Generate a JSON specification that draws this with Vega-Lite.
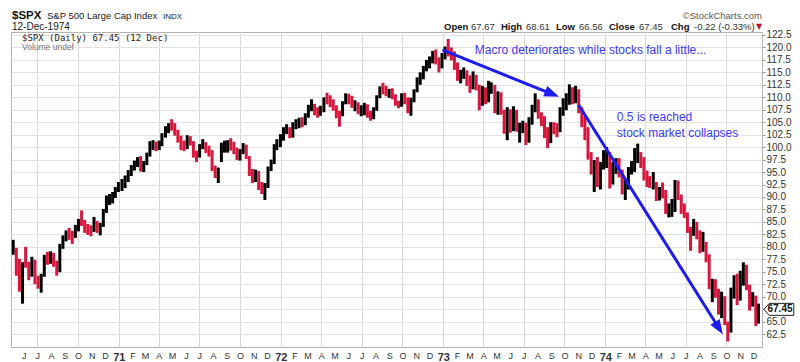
{
"$schema":"https://vega.github.io/schema/vega-lite/v6.json",
"width":751,"height":315,
"autosize":{"type":"none"},
"padding":{"left":11,"top":32,"right":38,"bottom":15},
"background":"white",
"config":{"view":{"stroke":"#b4b4b4","strokeWidth":1},"font":"Liberation Sans","text":{"font":"Liberation Sans"},"axis":{"labelOverlap":false,"labelSeparation":0,"labelFont":"Liberation Sans"}},
"datasets":{
"px":[
{"d":"1970-05-08","h":81.4,"l":78.4,"c":79.4},{"d":"1970-05-15","h":79.8,"l":74.2,"c":76.9},{"d":"1970-05-22","h":77.6,"l":71.0,"c":72.3},{"d":"1970-05-29","h":76.9,"l":68.6,"c":76.6},
{"d":"1970-06-05","h":80.0,"l":75.8,"c":76.2},{"d":"1970-06-12","h":77.0,"l":73.3,"c":74.3},{"d":"1970-06-19","h":78.0,"l":74.0,"c":77.0},{"d":"1970-06-26","h":77.4,"l":72.5,"c":73.5},
{"d":"1970-07-03","h":74.2,"l":71.6,"c":72.9},{"d":"1970-07-10","h":74.6,"l":70.8,"c":74.1},{"d":"1970-07-17","h":78.4,"l":74.0,"c":77.7},{"d":"1970-07-24","h":79.0,"l":76.4,"c":77.4},{"d":"1970-07-31","h":79.1,"l":76.6,"c":78.05},
{"d":"1970-08-07","h":78.8,"l":76.0,"c":76.6},{"d":"1970-08-14","h":77.2,"l":74.2,"c":75.2},{"d":"1970-08-21","h":80.6,"l":74.9,"c":80.0},{"d":"1970-08-28","h":82.3,"l":79.6,"c":81.9},
{"d":"1970-09-04","h":83.3,"l":81.1,"c":82.8},{"d":"1970-09-11","h":83.8,"l":81.4,"c":82.5},{"d":"1970-09-18","h":83.2,"l":80.6,"c":82.1},{"d":"1970-09-25","h":84.4,"l":81.8,"c":83.9},
{"d":"1970-10-02","h":85.6,"l":83.1,"c":85.2},{"d":"1970-10-09","h":87.3,"l":84.2,"c":85.0},{"d":"1970-10-16","h":85.4,"l":82.8,"c":83.8},{"d":"1970-10-23","h":84.6,"l":82.4,"c":83.4},{"d":"1970-10-30","h":84.3,"l":82.1,"c":83.25},
{"d":"1970-11-06","h":86.0,"l":83.0,"c":84.4},{"d":"1970-11-13","h":85.2,"l":82.8,"c":83.4},{"d":"1970-11-20","h":84.8,"l":82.3,"c":84.3},{"d":"1970-11-27","h":87.6,"l":84.0,"c":87.2},
{"d":"1970-12-04","h":90.3,"l":86.8,"c":89.5},{"d":"1970-12-11","h":90.6,"l":88.4,"c":89.7},{"d":"1970-12-18","h":91.0,"l":88.7,"c":90.2},{"d":"1970-12-24","h":92.0,"l":89.8,"c":91.6},{"d":"1970-12-31","h":93.0,"l":91.0,"c":92.15},
{"d":"1971-01-08","h":93.6,"l":91.2,"c":92.4},{"d":"1971-01-15","h":94.3,"l":91.8,"c":93.7},{"d":"1971-01-22","h":95.4,"l":93.0,"c":94.9},{"d":"1971-01-29","h":96.4,"l":94.2,"c":95.9},
{"d":"1971-02-05","h":97.3,"l":95.3,"c":96.6},{"d":"1971-02-12","h":98.0,"l":96.0,"c":97.5},{"d":"1971-02-19","h":98.2,"l":95.1,"c":96.0},{"d":"1971-02-26","h":97.2,"l":95.0,"c":96.75},
{"d":"1971-03-05","h":98.9,"l":96.4,"c":98.4},{"d":"1971-03-12","h":101.2,"l":98.1,"c":100.7},{"d":"1971-03-19","h":101.4,"l":99.4,"c":101.0},{"d":"1971-03-26","h":101.1,"l":99.2,"c":99.6},
{"d":"1971-04-02","h":101.3,"l":99.4,"c":100.6},{"d":"1971-04-08","h":102.8,"l":100.2,"c":102.1},{"d":"1971-04-16","h":104.2,"l":101.9,"c":103.5},{"d":"1971-04-23","h":104.8,"l":102.8,"c":104.3},{"d":"1971-04-30","h":105.6,"l":103.3,"c":103.95},
{"d":"1971-05-07","h":104.8,"l":102.3,"c":102.9},{"d":"1971-05-14","h":103.5,"l":100.9,"c":101.6},{"d":"1971-05-21","h":102.3,"l":99.4,"c":100.0},{"d":"1971-05-28","h":101.3,"l":99.2,"c":99.6},
{"d":"1971-06-04","h":102.4,"l":99.6,"c":101.3},{"d":"1971-06-11","h":102.2,"l":100.3,"c":100.9},{"d":"1971-06-18","h":101.2,"l":97.9,"c":98.2},{"d":"1971-06-25","h":99.3,"l":97.0,"c":98.0},
{"d":"1971-07-02","h":100.6,"l":97.9,"c":99.8},{"d":"1971-07-09","h":101.6,"l":99.6,"c":101.0},{"d":"1971-07-16","h":101.0,"l":98.8,"c":99.3},{"d":"1971-07-23","h":100.3,"l":98.1,"c":98.9},{"d":"1971-07-30","h":99.4,"l":95.2,"c":95.6},
{"d":"1971-08-06","h":96.3,"l":93.8,"c":94.3},{"d":"1971-08-13","h":95.9,"l":92.8,"c":95.7},{"d":"1971-08-20","h":100.9,"l":97.0,"c":99.9},{"d":"1971-08-27","h":101.3,"l":98.9,"c":100.5},
{"d":"1971-09-03","h":101.4,"l":98.9,"c":100.7},{"d":"1971-09-10","h":101.8,"l":99.3,"c":100.4},{"d":"1971-09-17","h":101.1,"l":98.6,"c":99.0},{"d":"1971-09-24","h":99.9,"l":97.4,"c":98.2},
{"d":"1971-10-01","h":99.6,"l":97.3,"c":98.9},{"d":"1971-10-08","h":100.8,"l":98.6,"c":99.8},{"d":"1971-10-15","h":100.5,"l":97.6,"c":97.8},{"d":"1971-10-22","h":98.2,"l":94.2,"c":95.1},{"d":"1971-10-29","h":95.6,"l":92.8,"c":94.2},
{"d":"1971-11-05","h":95.5,"l":93.0,"c":94.5},{"d":"1971-11-12","h":95.2,"l":91.4,"c":92.1},{"d":"1971-11-19","h":93.0,"l":90.6,"c":91.0},{"d":"1971-11-26","h":92.8,"l":89.4,"c":92.0},
{"d":"1971-12-03","h":96.1,"l":91.8,"c":95.8},{"d":"1971-12-10","h":97.5,"l":95.2,"c":97.0},{"d":"1971-12-17","h":100.6,"l":96.6,"c":100.3},{"d":"1971-12-23","h":101.6,"l":99.4,"c":100.7},{"d":"1971-12-31","h":102.6,"l":100.0,"c":102.09},
{"d":"1972-01-07","h":104.0,"l":101.3,"c":103.5},{"d":"1972-01-14","h":104.6,"l":102.6,"c":103.6},{"d":"1972-01-21","h":104.0,"l":101.8,"c":102.6},{"d":"1972-01-28","h":105.0,"l":101.9,"c":104.2},
{"d":"1972-02-04","h":105.6,"l":103.6,"c":104.9},{"d":"1972-02-11","h":105.9,"l":103.8,"c":105.1},{"d":"1972-02-18","h":106.0,"l":104.0,"c":105.0},{"d":"1972-02-25","h":106.8,"l":104.4,"c":106.2},
{"d":"1972-03-03","h":108.5,"l":105.9,"c":107.9},{"d":"1972-03-10","h":109.6,"l":107.2,"c":108.4},{"d":"1972-03-17","h":108.7,"l":106.4,"c":107.5},{"d":"1972-03-24","h":108.0,"l":105.9,"c":106.7},{"d":"1972-03-30","h":108.3,"l":106.3,"c":107.2},
{"d":"1972-04-07","h":110.0,"l":107.0,"c":109.6},{"d":"1972-04-14","h":110.9,"l":108.6,"c":109.5},{"d":"1972-04-21","h":110.4,"l":108.0,"c":108.9},{"d":"1972-04-28","h":109.6,"l":107.3,"c":107.7},
{"d":"1972-05-05","h":108.4,"l":105.8,"c":106.6},{"d":"1972-05-12","h":107.3,"l":104.1,"c":106.4},{"d":"1972-05-19","h":109.2,"l":106.2,"c":108.9},{"d":"1972-05-26","h":110.8,"l":108.6,"c":110.5},
{"d":"1972-06-02","h":110.7,"l":108.6,"c":109.7},{"d":"1972-06-09","h":110.3,"l":107.9,"c":108.3},{"d":"1972-06-16","h":109.4,"l":107.2,"c":108.6},{"d":"1972-06-23","h":109.0,"l":106.6,"c":107.0},{"d":"1972-06-30","h":108.4,"l":106.2,"c":107.1},
{"d":"1972-07-07","h":108.9,"l":106.4,"c":108.7},{"d":"1972-07-14","h":108.6,"l":105.9,"c":106.3},{"d":"1972-07-21","h":107.3,"l":105.3,"c":106.1},{"d":"1972-07-28","h":108.0,"l":105.6,"c":107.5},
{"d":"1972-08-04","h":110.4,"l":107.3,"c":110.1},{"d":"1972-08-11","h":112.2,"l":109.8,"c":111.9},{"d":"1972-08-18","h":112.9,"l":110.6,"c":111.7},{"d":"1972-08-25","h":112.3,"l":110.2,"c":110.7},
{"d":"1972-09-01","h":111.7,"l":109.9,"c":111.5},{"d":"1972-09-08","h":111.8,"l":109.6,"c":110.3},{"d":"1972-09-15","h":110.6,"l":108.3,"c":108.8},{"d":"1972-09-22","h":109.3,"l":107.8,"c":108.5},{"d":"1972-09-29","h":110.8,"l":108.1,"c":110.55},
{"d":"1972-10-06","h":110.9,"l":108.6,"c":109.6},{"d":"1972-10-13","h":110.0,"l":106.8,"c":107.3},{"d":"1972-10-20","h":109.9,"l":106.3,"c":109.2},{"d":"1972-10-27","h":111.6,"l":109.0,"c":111.4},
{"d":"1972-11-03","h":114.0,"l":111.0,"c":113.2},{"d":"1972-11-10","h":115.0,"l":112.5,"c":113.9},{"d":"1972-11-17","h":116.3,"l":113.6,"c":115.5},{"d":"1972-11-24","h":117.5,"l":115.2,"c":117.3},
{"d":"1972-12-01","h":118.2,"l":115.8,"c":117.4},{"d":"1972-12-08","h":119.3,"l":116.8,"c":118.9},{"d":"1972-12-15","h":119.6,"l":116.6,"c":117.9},{"d":"1972-12-22","h":118.0,"l":115.0,"c":116.2},{"d":"1972-12-29","h":118.9,"l":115.8,"c":118.05},
{"d":"1973-01-05","h":120.2,"l":117.6,"c":119.9},{"d":"1973-01-12","h":121.7,"l":118.2,"c":119.3},{"d":"1973-01-19","h":120.0,"l":117.4,"c":118.8},{"d":"1973-01-26","h":119.2,"l":115.5,"c":116.5},
{"d":"1973-02-02","h":117.0,"l":113.3,"c":114.4},{"d":"1973-02-09","h":115.5,"l":112.8,"c":114.7},{"d":"1973-02-16","h":116.0,"l":113.7,"c":115.0},{"d":"1973-02-23","h":115.4,"l":112.3,"c":113.2},
{"d":"1973-03-02","h":114.4,"l":110.9,"c":112.3},{"d":"1973-03-09","h":115.2,"l":111.6,"c":113.8},{"d":"1973-03-16","h":114.5,"l":111.4,"c":112.1},{"d":"1973-03-23","h":112.5,"l":107.4,"c":108.8},{"d":"1973-03-30","h":112.3,"l":108.3,"c":111.5},
{"d":"1973-04-06","h":112.0,"l":108.6,"c":109.3},{"d":"1973-04-13","h":113.3,"l":109.0,"c":111.4},{"d":"1973-04-19","h":113.0,"l":110.7,"c":112.2},{"d":"1973-04-27","h":112.5,"l":106.8,"c":107.2},
{"d":"1973-05-04","h":111.2,"l":106.5,"c":110.0},{"d":"1973-05-11","h":111.0,"l":106.5,"c":107.0},{"d":"1973-05-18","h":107.5,"l":102.7,"c":104.0},{"d":"1973-05-25","h":108.0,"l":101.4,"c":107.1},
{"d":"1973-06-01","h":107.6,"l":102.9,"c":103.9},{"d":"1973-06-08","h":108.2,"l":103.2,"c":107.0},{"d":"1973-06-15","h":107.5,"l":103.1,"c":103.7},{"d":"1973-06-22","h":104.9,"l":100.9,"c":103.7},{"d":"1973-06-29","h":105.3,"l":102.8,"c":104.3},
{"d":"1973-07-06","h":104.9,"l":100.4,"c":101.3},{"d":"1973-07-13","h":106.0,"l":100.9,"c":105.8},{"d":"1973-07-20","h":108.5,"l":104.5,"c":107.6},{"d":"1973-07-27","h":110.8,"l":107.0,"c":109.7},
{"d":"1973-08-03","h":109.6,"l":105.7,"c":106.4},{"d":"1973-08-10","h":107.0,"l":104.2,"c":105.2},{"d":"1973-08-17","h":106.2,"l":101.8,"c":103.4},{"d":"1973-08-24","h":104.0,"l":99.8,"c":101.2},{"d":"1973-08-31","h":105.0,"l":100.8,"c":104.3},
{"d":"1973-09-07","h":105.0,"l":102.6,"c":104.0},{"d":"1973-09-14","h":104.8,"l":102.0,"c":103.4},{"d":"1973-09-21","h":108.0,"l":103.0,"c":107.2},{"d":"1973-09-28","h":109.8,"l":106.3,"c":108.4},
{"d":"1973-10-05","h":110.8,"l":107.4,"c":109.9},{"d":"1973-10-12","h":112.6,"l":108.5,"c":111.4},{"d":"1973-10-19","h":112.0,"l":108.6,"c":110.2},{"d":"1973-10-26","h":112.3,"l":108.8,"c":111.4},
{"d":"1973-11-02","h":111.6,"l":106.8,"c":107.1},{"d":"1973-11-09","h":108.0,"l":104.0,"c":105.3},{"d":"1973-11-16","h":106.2,"l":101.4,"c":103.9},{"d":"1973-11-23","h":104.0,"l":97.5,"c":98.0},{"d":"1973-11-30","h":99.0,"l":94.5,"c":95.96},
{"d":"1973-12-07","h":97.4,"l":91.0,"c":96.5},{"d":"1973-12-14","h":98.0,"l":92.0,"c":93.3},{"d":"1973-12-21","h":97.0,"l":91.5,"c":95.8},{"d":"1973-12-28","h":99.4,"l":95.5,"c":97.5},
{"d":"1974-01-04","h":100.0,"l":95.8,"c":98.9},{"d":"1974-01-11","h":99.0,"l":91.7,"c":93.4},{"d":"1974-01-18","h":97.0,"l":92.5,"c":95.6},{"d":"1974-01-25","h":97.8,"l":94.6,"c":96.0},
{"d":"1974-02-01","h":97.8,"l":93.9,"c":94.9},{"d":"1974-02-08","h":95.5,"l":90.5,"c":91.4},{"d":"1974-02-15","h":93.5,"l":89.4,"c":92.3},{"d":"1974-02-22","h":96.0,"l":91.5,"c":95.4},
{"d":"1974-03-01","h":97.2,"l":94.5,"c":95.5},{"d":"1974-03-08","h":99.8,"l":95.0,"c":97.8},{"d":"1974-03-15","h":100.7,"l":96.8,"c":99.7},{"d":"1974-03-22","h":99.0,"l":95.8,"c":97.3},{"d":"1974-03-29","h":98.0,"l":93.3,"c":93.98},
{"d":"1974-04-05","h":95.3,"l":92.0,"c":93.0},{"d":"1974-04-11","h":94.2,"l":91.8,"c":92.1},{"d":"1974-04-19","h":95.0,"l":91.5,"c":92.1},{"d":"1974-04-26","h":93.0,"l":89.2,"c":89.6},
{"d":"1974-05-03","h":92.0,"l":89.3,"c":91.0},{"d":"1974-05-10","h":92.9,"l":89.7,"c":90.7},{"d":"1974-05-17","h":91.4,"l":86.6,"c":87.1},{"d":"1974-05-24","h":88.7,"l":85.9,"c":87.3},{"d":"1974-05-31","h":89.6,"l":86.0,"c":87.3},
{"d":"1974-06-07","h":93.4,"l":87.0,"c":92.6},{"d":"1974-06-14","h":93.3,"l":89.4,"c":90.0},{"d":"1974-06-21","h":90.5,"l":86.6,"c":87.5},{"d":"1974-06-28","h":88.7,"l":85.8,"c":86.0},
{"d":"1974-07-05","h":86.9,"l":82.8,"c":83.7},{"d":"1974-07-12","h":84.0,"l":79.2,"c":83.2},{"d":"1974-07-19","h":85.6,"l":82.2,"c":83.8},{"d":"1974-07-26","h":85.0,"l":81.5,"c":82.4},
{"d":"1974-08-02","h":83.3,"l":78.7,"c":79.3},{"d":"1974-08-09","h":83.0,"l":79.0,"c":80.9},{"d":"1974-08-16","h":81.0,"l":76.9,"c":78.0},{"d":"1974-08-23","h":78.5,"l":71.5,"c":71.6},{"d":"1974-08-30","h":73.6,"l":68.9,"c":72.15},
{"d":"1974-09-06","h":73.5,"l":69.8,"c":71.4},{"d":"1974-09-13","h":71.6,"l":66.4,"c":66.7},{"d":"1974-09-20","h":71.0,"l":65.7,"c":70.1},{"d":"1974-09-27","h":70.1,"l":64.3,"c":64.9},
{"d":"1974-10-04","h":65.0,"l":61.0,"c":62.34},{"d":"1974-10-11","h":71.8,"l":62.8,"c":71.14},{"d":"1974-10-18","h":74.3,"l":69.6,"c":72.28},{"d":"1974-10-25","h":74.6,"l":68.3,"c":70.12},
{"d":"1974-11-01","h":75.2,"l":69.2,"c":73.88},{"d":"1974-11-08","h":76.9,"l":72.2,"c":74.91},{"d":"1974-11-15","h":76.4,"l":71.3,"c":71.91},{"d":"1974-11-22","h":72.4,"l":67.2,"c":68.9},{"d":"1974-11-29","h":70.9,"l":68.0,"c":69.97},
{"d":"1974-12-06","h":70.2,"l":64.1,"c":65.01},{"d":"1974-12-12","h":68.6,"l":64.6,"c":67.45}
],
"arrows":[
{"id":1,"d1":"1972-12-30","v1":119.5,"d2":"1973-09-02","v2":110.7,"dt":"1973-09-19","vt":110.1},
{"id":2,"d1":"1973-11-02","v1":108.45,"d2":"1974-09-13","v2":63.8,"dt":"1974-09-23","vt":62.4}
],
"notes":[
{"d":"1973-03-13","v":119.49,"t":"Macro deteriorates while stocks fall a little..."},
{"d":"1974-01-27","v":105.98,"t":"0.5 is reached"},
{"d":"1974-01-27","v":102.89,"t":"stock market collapses"}
]
},
"layer":[
{
"data":{"name":"px"},
"transform":[{"window":[{"op":"lag","field":"c","as":"pc"}],"sort":[{"field":"d"}]}],
"mark":{"type":"rule","strokeWidth":3,"strokeCap":"butt"},
"encoding":{
"x":{"field":"d","type":"temporal","scale":{"type":"utc","domain":[{"year":1970,"month":5,"date":3,"utc":true},{"year":1974,"month":12,"date":20,"utc":true}],"nice":false},
"axis":{"title":null,"tickCount":{"interval":"month","step":1},
"labelExpr":"utcmonth(datum.value)==0 ? utcFormat(datum.value,'%y') : slice(utcFormat(datum.value,'%b'),0,1)",
"labelFontWeight":{"condition":{"test":"utcmonth(datum.value)==0","value":"bold"},"value":"normal"},
"labelFontSize":{"condition":{"test":"utcmonth(datum.value)==0","value":11},"value":9},
"labelColor":"#333","labelPadding":4,"ticks":false,"domain":false,"grid":true,
"gridColor":{"condition":{"test":"utcmonth(datum.value)%3==0","value":"#d9d9d9"},"value":"rgba(0,0,0,0)"},
"labelOverlap":false,"labelBound":false,"labelFlush":false}},
"y":{"field":"l","type":"quantitative","scale":{"domain":[59.9,123.1],"nice":false,"zero":false},
"axis":{"orient":"right","title":null,"tickCount":40,"values":[62.5,65,67.5,70,72.5,75,77.5,80,82.5,85,87.5,90,92.5,95,97.5,100,102.5,105,107.5,110,112.5,115,117.5,120,122.5],
"labelExpr":"datum.value == 67.5 ? '' : format(datum.value, '.1f')",
"labelFontSize":10,"labelColor":"#333","tickSize":3,"tickColor":"#999","labelPadding":1,"domain":false,"grid":true,"gridColor":"#e3e3e3","labelOverlap":false,"labelBound":false,"labelSeparation":0}},
"y2":{"field":"h"},
"color":{"condition":{"test":"datum.pc != null && datum.c < datum.pc","value":"#d8163c"},"value":"#000000"}
}
},
{
"data":{"name":"arrows"},
"mark":{"type":"rule","color":"#1c1cf0","strokeWidth":3},
"encoding":{"x":{"field":"d1","type":"temporal"},"y":{"field":"v1","type":"quantitative"},"x2":{"field":"d2"},"y2":{"field":"v2"}}
},
{
"data":{"name":"arrows"},
"transform":[{"filter":"datum.id==1"}],
"mark":{"type":"point","shape":"M0,0L-3,-1.1L-3,1.1Z","size":100,"filled":true,"color":"#1c1cf0","opacity":1,"angle":21.8},
"encoding":{"x":{"field":"dt","type":"temporal"},"y":{"field":"vt","type":"quantitative"}}
},
{
"data":{"name":"arrows"},
"transform":[{"filter":"datum.id==2"}],
"mark":{"type":"point","shape":"M0,0L-3,-1.1L-3,1.1Z","size":100,"filled":true,"color":"#1c1cf0","opacity":1,"angle":57.8},
"encoding":{"x":{"field":"dt","type":"temporal"},"y":{"field":"vt","type":"quantitative"}}
},
{
"data":{"name":"notes"},
"mark":{"type":"text","align":"left","baseline":"middle","fontSize":12,"font":"Liberation Sans","color":"#3a3af5"},
"encoding":{"x":{"field":"d","type":"temporal"},"y":{"field":"v","type":"quantitative"},"text":{"field":"t"}}
},
{
"data":{"values":[{}]},
"mark":{"type":"point","shape":"M0.33,0L1.2,-1L5.3,-1L5.3,1L1.2,1Z","size":144,"filled":true,"fill":"white","stroke":"#222","strokeWidth":1,"opacity":1},
"encoding":{"x":{"datum":{"year":1974,"month":12,"date":20,"utc":true},"type":"temporal"},"y":{"datum":67.45,"type":"quantitative"}}
},
{
"data":{"values":[{}]},
"mark":{"type":"text","align":"center","baseline":"middle","fontSize":10,"font":"Liberation Sans","fontWeight":"bold","color":"#111","dx":18},
"encoding":{"x":{"datum":{"year":1974,"month":12,"date":20,"utc":true},"type":"temporal"},"y":{"datum":67.45,"type":"quantitative"},"text":{"value":"67.45"}}
},
{
"data":{"values":[{}]},
"mark":{"type":"text","align":"left","baseline":"alphabetic","fontSize":11.5,"font":"Liberation Sans","fontWeight":"bold","color":"#111","dx":1},
"encoding":{"x":{"datum":{"year":1970,"month":5,"date":3,"utc":true},"type":"temporal"},"y":{"datum":125.8,"type":"quantitative"},"text":{"value":"$SPX"}}
},
{
"data":{"values":[{}]},
"mark":{"type":"text","align":"left","baseline":"alphabetic","fontSize":9.5,"font":"Liberation Sans","color":"#222","dx":36},
"encoding":{"x":{"datum":{"year":1970,"month":5,"date":3,"utc":true},"type":"temporal"},"y":{"datum":125.8,"type":"quantitative"},"text":{"value":"S&P 500 Large Cap Index"}}
},
{
"data":{"values":[{}]},
"mark":{"type":"text","align":"left","baseline":"alphabetic","fontSize":8,"font":"Liberation Sans","color":"#222","dx":152},
"encoding":{"x":{"datum":{"year":1970,"month":5,"date":3,"utc":true},"type":"temporal"},"y":{"datum":125.8,"type":"quantitative"},"text":{"value":"INDX"}}
},
{
"data":{"values":[{}]},
"mark":{"type":"text","align":"left","baseline":"alphabetic","fontSize":10,"font":"Liberation Sans","color":"#222","dx":1},
"encoding":{"x":{"datum":{"year":1970,"month":5,"date":3,"utc":true},"type":"temporal"},"y":{"datum":123.6,"type":"quantitative"},"text":{"value":"12-Dec-1974"}}
},
{
"data":{"values":[{}]},
"mark":{"type":"text","align":"left","baseline":"alphabetic","fontSize":9,"font":"DejaVu Sans Mono","color":"#222","dx":11},
"encoding":{"x":{"datum":{"year":1970,"month":5,"date":3,"utc":true},"type":"temporal"},"y":{"datum":121.2,"type":"quantitative"},"text":{"value":"$SPX (Daily) 67.45 (12 Dec)"}}
},
{
"data":{"values":[{}]},
"mark":{"type":"text","align":"left","baseline":"alphabetic","fontSize":8.5,"font":"Liberation Sans","color":"#777","dx":11},
"encoding":{"x":{"datum":{"year":1970,"month":5,"date":3,"utc":true},"type":"temporal"},"y":{"datum":119.49,"type":"quantitative"},"text":{"value":"Volume undef"}}
},
{
"data":{"values":[{}]},
"mark":{"type":"text","align":"right","baseline":"alphabetic","fontSize":9.5,"font":"Liberation Sans","color":"#555","dx":0},
"encoding":{"x":{"datum":{"year":1974,"month":12,"date":20,"utc":true},"type":"temporal"},"y":{"datum":125.8,"type":"quantitative"},"text":{"value":"©StockCharts.com"}}
},
{
"data":{"values":[{}]},
"mark":{"type":"text","align":"left","baseline":"alphabetic","fontSize":9.5,"font":"Liberation Sans","fontWeight":"bold","color":"#111","dx":-318},
"encoding":{"x":{"datum":{"year":1974,"month":12,"date":20,"utc":true},"type":"temporal"},"y":{"datum":123.6,"type":"quantitative"},"text":{"value":"Open"}}
},
{
"data":{"values":[{}]},
"mark":{"type":"text","align":"left","baseline":"alphabetic","fontSize":9.5,"font":"Liberation Sans","color":"#333","dx":-291},
"encoding":{"x":{"datum":{"year":1974,"month":12,"date":20,"utc":true},"type":"temporal"},"y":{"datum":123.6,"type":"quantitative"},"text":{"value":"67.67"}}
},
{
"data":{"values":[{}]},
"mark":{"type":"text","align":"left","baseline":"alphabetic","fontSize":9.5,"font":"Liberation Sans","fontWeight":"bold","color":"#111","dx":-261},
"encoding":{"x":{"datum":{"year":1974,"month":12,"date":20,"utc":true},"type":"temporal"},"y":{"datum":123.6,"type":"quantitative"},"text":{"value":"High"}}
},
{
"data":{"values":[{}]},
"mark":{"type":"text","align":"left","baseline":"alphabetic","fontSize":9.5,"font":"Liberation Sans","color":"#333","dx":-236},
"encoding":{"x":{"datum":{"year":1974,"month":12,"date":20,"utc":true},"type":"temporal"},"y":{"datum":123.6,"type":"quantitative"},"text":{"value":"68.61"}}
},
{
"data":{"values":[{}]},
"mark":{"type":"text","align":"left","baseline":"alphabetic","fontSize":9.5,"font":"Liberation Sans","fontWeight":"bold","color":"#111","dx":-206},
"encoding":{"x":{"datum":{"year":1974,"month":12,"date":20,"utc":true},"type":"temporal"},"y":{"datum":123.6,"type":"quantitative"},"text":{"value":"Low"}}
},
{
"data":{"values":[{}]},
"mark":{"type":"text","align":"left","baseline":"alphabetic","fontSize":9.5,"font":"Liberation Sans","color":"#333","dx":-183},
"encoding":{"x":{"datum":{"year":1974,"month":12,"date":20,"utc":true},"type":"temporal"},"y":{"datum":123.6,"type":"quantitative"},"text":{"value":"66.56"}}
},
{
"data":{"values":[{}]},
"mark":{"type":"text","align":"left","baseline":"alphabetic","fontSize":9.5,"font":"Liberation Sans","fontWeight":"bold","color":"#111","dx":-153},
"encoding":{"x":{"datum":{"year":1974,"month":12,"date":20,"utc":true},"type":"temporal"},"y":{"datum":123.6,"type":"quantitative"},"text":{"value":"Close"}}
},
{
"data":{"values":[{}]},
"mark":{"type":"text","align":"left","baseline":"alphabetic","fontSize":9.5,"font":"Liberation Sans","color":"#333","dx":-123},
"encoding":{"x":{"datum":{"year":1974,"month":12,"date":20,"utc":true},"type":"temporal"},"y":{"datum":123.6,"type":"quantitative"},"text":{"value":"67.45"}}
},
{
"data":{"values":[{}]},
"mark":{"type":"text","align":"left","baseline":"alphabetic","fontSize":9.5,"font":"Liberation Sans","fontWeight":"bold","color":"#111","dx":-91},
"encoding":{"x":{"datum":{"year":1974,"month":12,"date":20,"utc":true},"type":"temporal"},"y":{"datum":123.6,"type":"quantitative"},"text":{"value":"Chg"}}
},
{
"data":{"values":[{}]},
"mark":{"type":"text","align":"left","baseline":"alphabetic","fontSize":9.5,"font":"Liberation Sans","color":"#333","dx":-68},
"encoding":{"x":{"datum":{"year":1974,"month":12,"date":20,"utc":true},"type":"temporal"},"y":{"datum":123.6,"type":"quantitative"},"text":{"value":"-0.22 (-0.33%)"}}
},
{
"data":{"values":[{}]},
"mark":{"type":"text","align":"center","baseline":"alphabetic","fontSize":8,"font":"DejaVu Sans","color":"#c8102e","dx":-3},
"encoding":{"x":{"datum":{"year":1974,"month":12,"date":20,"utc":true},"type":"temporal"},"y":{"datum":123.8,"type":"quantitative"},"text":{"value":"▼"}}
}
]
}
